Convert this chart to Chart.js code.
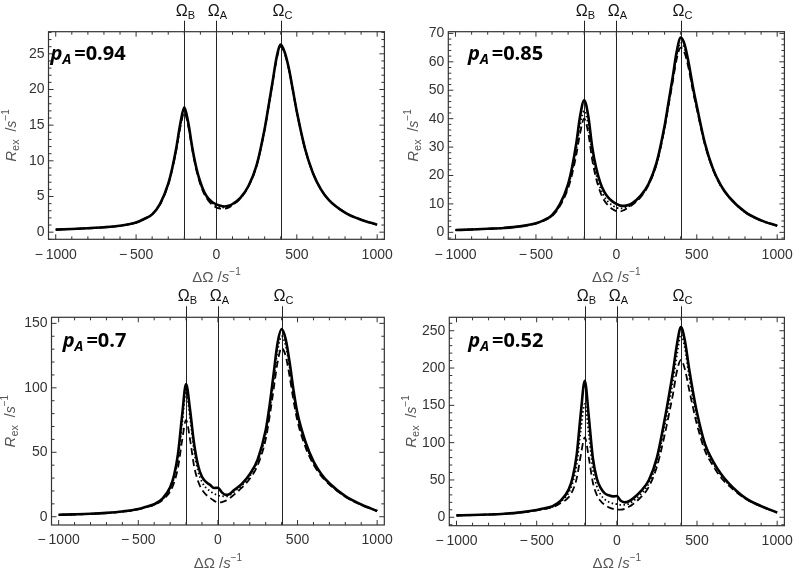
<!DOCTYPE html>
<html>
<head>
<meta charset="utf-8">
<script src="https://cdn.jsdelivr.net/npm/chart.js@4.4.1/dist/chart.umd.min.js"></script>
<style>
  html, body { margin: 0; padding: 0; background: #fff; }
  #wrap { position: relative; width: 800px; height: 571px; overflow: hidden; }
  canvas { position: absolute; }
</style>
</head>
<body>
<div id="wrap">
  <canvas id="c1" width="400" height="285" style="left:0;top:0"></canvas>
  <canvas id="c2" width="400" height="285" style="left:400px;top:0"></canvas>
  <canvas id="c3" width="400" height="286" style="left:0;top:285px"></canvas>
  <canvas id="c4" width="400" height="286" style="left:400px;top:285px"></canvas>
</div>
<script>
// offset values (s^-1) shared by every curve
const xValues = [-1000,-900,-800,-700,-600,-500,-450,-400,-350,-300,-275,-250,-225,-200,-175,-150,-125,-100,-75,-50,-25,0,25,50,75,100,150,200,250,300,325,350,375,400,425,450,475,500,550,600,650,700,800,900,1000];

// pA = 0.94
const solid1  = [0.35,0.45,0.55,0.68,0.9,1.35,1.85,2.5,4.0,6.8,9.0,11.8,15.2,17.5,15.3,11.8,9.0,7.0,5.6,4.7,4.2,3.9,3.7,3.6,3.7,3.95,4.85,6.5,9.4,14.5,17.8,21.2,24.6,26.3,25.2,23.0,20.0,16.9,11.8,8.3,6.0,4.5,2.75,1.75,1.05];
const dotted1 = [0.35,0.45,0.55,0.68,0.9,1.35,1.85,2.5,3.97,6.72,8.9,11.65,14.95,17.15,15.05,11.65,8.85,6.85,5.45,4.55,4.0,3.65,3.5,3.45,3.57,3.87,4.8,6.47,9.37,14.45,17.75,21.1,24.45,26.15,25.1,22.95,19.95,16.87,11.8,8.3,6.0,4.5,2.75,1.75,1.05];
const dashed1 = [0.35,0.45,0.55,0.68,0.9,1.35,1.85,2.5,3.95,6.65,8.8,11.5,14.7,16.8,14.8,11.5,8.7,6.7,5.3,4.4,3.8,3.45,3.3,3.3,3.45,3.8,4.75,6.45,9.35,14.4,17.7,21.0,24.3,26.0,25.0,22.9,19.9,16.85,11.8,8.3,6.0,4.5,2.75,1.75,1.05];

// pA = 0.85
const solid2  = [0.8,1.0,1.25,1.55,2.1,3.2,4.3,6.0,10,17,23,31,41,46.5,41,30,22.5,17.5,14.2,12.2,10.9,10.0,9.4,9.3,9.6,10.3,12.8,17,24.5,37.5,46,54.5,63.5,68.5,66,59.5,51.5,44.5,31.5,22.5,16.5,12.5,7.2,4.2,2.3];
const dotted2 = [0.8,1.0,1.25,1.55,2.08,3.15,4.2,5.85,9.6,16.2,21.7,29,37.8,42.8,37.8,27.5,20.4,15.7,12.6,10.7,9.5,8.7,8.4,8.6,9.1,10.0,12.5,16.8,24.2,37,45.4,53.6,62.2,66.7,64.5,58.5,50.7,44,31.2,22.3,16.4,12.4,7.1,4.15,2.3];
const dashed2 = [0.8,1.0,1.25,1.55,2.05,3.1,4.1,5.7,9.3,15.5,20.5,27,35,40,35,25.5,18.8,14.2,11.2,9.4,8.2,7.5,7.4,7.9,8.7,9.7,12.3,16.6,24,36.6,44.8,52.8,61,65,63,57.5,50,43.5,31,22.2,16.3,12.4,7.1,4.15,2.3];

// pA = 0.7
const solid3  = [1.5,1.85,2.3,3.0,4.1,6.0,7.8,9.7,13.8,22.8,32.3,49.4,78.2,103,83,57,40,31,27,24.8,22.3,22.5,18.9,17,17.8,20.5,25.5,33,44.5,67,86.7,111,135,145.5,138,120,98,80,58,43,33,26,16,9.5,4.5];
const dotted3 = [1.48,1.83,2.28,2.95,4.0,5.85,7.6,9.5,13.4,21.5,30.5,45.5,72,97,77,51.5,35.5,27,22.5,20,18,16.6,16,15.8,16.8,19.2,24.3,31.5,42.5,64,83,106,129,140,133,116,95,77.5,56.5,42,32.5,25.5,15.8,9.4,4.45];
const dashed3 = [1.45,1.8,2.25,2.9,3.9,5.7,7.4,9.3,12.8,19.5,26.5,38.5,59,75,60,39.5,27.7,21,17.2,14.7,12.5,11,11.4,12.5,14.5,17,22.5,29.5,40,60,78,99,120,131,125,109,90,74,54,40.5,31.5,25,15.5,9.2,4.4];

// pA = 0.52
const solid4  = [2.5,3.0,3.7,4.8,6.6,9.8,12,15,22.3,37.4,54,84.4,139,183,135,80,52,39,32,29.5,28,28.5,22,20,21.5,25,35,50,80,133,163,195,232,255,236,200,168,140,98,75,58,45,26,15,6.5];
const dotted4 = [2.45,2.95,3.65,4.7,6.45,9.5,11.6,14.3,20.8,33,46.5,71,117,152,112,65,41.5,30,24,20.5,18.5,17.5,16.5,16.5,18,21.5,31,45.5,74,124,152,182,218,245,226,190,159,133,94,72.5,56,43.5,25.5,14.8,6.4];
const dashed4 = [2.4,2.9,3.6,4.6,6.3,9.2,11.2,13.5,19,27,36,52.5,83,107,80,47,30,21.5,16.5,13.3,11.3,10.2,10.2,11.5,14,17.5,27,41,68,112,138,165,196,211,198,172,147,124,89,69,53,42,25,14.5,6.3];

// tick labels
const xTicks = [-1000, -500, 0, 500, 1000];
const yTicks1 = [0, 5, 10, 15, 20, 25];
const yTicks2 = [0, 10, 20, 30, 40, 50, 60, 70];
const yTicks3 = [0, 50, 100, 150];
const yTicks4 = [0, 50, 100, 150, 200, 250];

// resonance markers and panel labels
const markerX = [-200, 0, 400];
const markerSub = ['B', 'A', 'C'];
const pAValues = ['0.94', '0.85', '0.7', '0.52'];

const FONT = '"Liberation Sans", Arial, sans-serif';
const LABEL_FONT = '"Open Sans", sans-serif';

function richWidth(ctx, parts) {
  let w = 0;
  for (const p of parts) { ctx.font = p.font; w += ctx.measureText(p.t).width + (p.gap || 0); }
  return w;
}
function drawRich(ctx, parts, x, y) {
  for (const p of parts) {
    ctx.font = p.font;
    ctx.fillText(p.t, x, y + (p.dy || 0));
    x += ctx.measureText(p.t).width + (p.gap || 0);
  }
}
function fmt(v) {
  return v < 0 ? '\u2212\u2009' + Math.abs(v) : String(v);
}

const decor = {
  id: 'decor',
  beforeDatasetsDraw(chart, args, o) {
    const { ctx, chartArea: a, scales: { x } } = chart;
    ctx.save();
    ctx.strokeStyle = '#222';
    ctx.fillStyle = '#111';
    ctx.lineWidth = 1;
    ctx.textBaseline = 'alphabetic';
    markerX.forEach((v, i) => {
      const px = Math.round(x.getPixelForValue(v)) + 0.5;
      ctx.beginPath();
      ctx.moveTo(px, a.top - 11);
      ctx.lineTo(px, a.bottom);
      ctx.stroke();
      const parts = [
        { t: '\u03A9', font: '16px ' + FONT },
        { t: markerSub[i], font: '11px ' + FONT, dy: 3 }
      ];
      drawRich(ctx, parts, px - richWidth(ctx, parts) / 2 + 1, a.top - 16);
    });
    ctx.restore();
  },
  afterDatasetsDraw(chart, args, o) {
    const { ctx, chartArea: a, scales: { x, y } } = chart;
    ctx.save();
    // frame
    ctx.strokeStyle = '#333';
    ctx.lineWidth = 1.2;
    ctx.strokeRect(a.left, a.top, a.right - a.left, a.bottom - a.top);
    // inward ticks on all four sides
    ctx.lineWidth = 1;
    for (let v = xTicks[0]; v <= xTicks[xTicks.length - 1]; v += 100) {
      const len = xTicks.includes(v) ? 5 : 3;
      const px = x.getPixelForValue(v);
      ctx.beginPath();
      ctx.moveTo(px, a.bottom); ctx.lineTo(px, a.bottom - len);
      ctx.moveTo(px, a.top); ctx.lineTo(px, a.top + len);
      ctx.stroke();
    }
    for (let v = Math.ceil(y.min / o.yMinor) * o.yMinor; v <= y.max; v += o.yMinor) {
      const len = o.yTicks.includes(Math.round(v * 100) / 100) ? 5 : 3;
      const py = y.getPixelForValue(v);
      ctx.beginPath();
      ctx.moveTo(a.left, py); ctx.lineTo(a.left + len, py);
      ctx.moveTo(a.right, py); ctx.lineTo(a.right - len, py);
      ctx.stroke();
    }
    // axis titles
    ctx.fillStyle = '#555';
    ctx.textBaseline = 'alphabetic';
    const xt = [
      { t: '\u0394\u03A9 /', font: '15px ' + FONT },
      { t: 's', font: 'italic 15px ' + FONT },
      { t: '\u22121', font: '10px ' + FONT, dy: -7 }
    ];
    drawRich(ctx, xt, (a.left + a.right) / 2 - richWidth(ctx, xt) / 2, o.xTitleY);
    const ytp = [
      { t: 'R', font: 'italic 15px ' + FONT },
      { t: 'ex', font: '11px ' + FONT, dy: 3 },
      { t: '  /', font: '14px ' + FONT },
      { t: 's', font: 'italic 14px ' + FONT },
      { t: '\u22121', font: '10px ' + FONT, dy: -7 }
    ];
    ctx.translate(o.yTitleX, (a.top + a.bottom) / 2);
    ctx.rotate(-Math.PI / 2);
    drawRich(ctx, ytp, -richWidth(ctx, ytp) / 2, 0);
    ctx.setTransform(1, 0, 0, 1, 0, 0);
    // pA label
    ctx.fillStyle = '#000';
    const lab = [
      { t: 'p', font: 'italic bold 20px ' + LABEL_FONT },
      { t: 'A', font: 'italic bold 14px ' + LABEL_FONT, dy: 4, gap: 3 },
      { t: '=' + o.pA, font: 'bold 20px ' + LABEL_FONT }
    ];
    drawRich(ctx, lab, o.labelX, o.labelY);
    ctx.restore();
  }
};

const panels = [
  { id: 'c1', w: 400, h: 285, area: [48.5, 31.7, 388.3, 239.3], yMin: -1, yMax: 28.1, yTicks: yTicks1, yMinor: 1,
    series: [solid1, dotted1, dashed1], pA: pAValues[0], labelX: 50.5, labelY: 59.5, yTitleX: 16, xTitleY: 282 },
  { id: 'c2', w: 400, h: 285, area: [48.3, 31.7, 388.3, 239.3], yMin: -2.45, yMax: 70.6, yTicks: yTicks2, yMinor: 2,
    series: [solid2, dotted2, dashed2], pA: pAValues[1], labelX: 68, labelY: 59.5, yTitleX: 18, xTitleY: 282 },
  { id: 'c3', w: 400, h: 286, area: [51.5, 32.3, 387.3, 240], yMin: -6.4, yMax: 154.7, yTicks: yTicks3, yMinor: 10,
    series: [solid3, dotted3, dashed3], pA: pAValues[2], labelX: 62.7, labelY: 61.7, yTitleX: 15, xTitleY: 283 },
  { id: 'c4', w: 400, h: 286, area: [49.3, 32.3, 388.3, 240.7], yMin: -11.3, yMax: 268, yTicks: yTicks4, yMinor: 10,
    series: [solid4, dotted4, dashed4], pA: pAValues[3], labelX: 68.3, labelY: 61.7, yTitleX: 16, xTitleY: 283 }
];

const lineStyles = [
  { borderWidth: 2.6, borderDash: [] },
  { borderWidth: 1.8, borderDash: [1.5, 2.5] },
  { borderWidth: 1.8, borderDash: [7, 4] }
];

panels.forEach(p => {
  const [L, T, R, B] = p.area;
  const tickFont = { family: 'Liberation Sans', size: 14 };
  new Chart(document.getElementById(p.id).getContext('2d'), {
    type: 'line',
    data: {
      datasets: p.series.map((s, k) => ({
        data: xValues.map((xv, i) => ({ x: xv, y: s[i] })),
        borderColor: '#000',
        borderWidth: lineStyles[k].borderWidth,
        borderDash: lineStyles[k].borderDash,
        fill: false
      }))
    },
    options: {
      responsive: false,
      animation: false,
      devicePixelRatio: 1,
      layout: { padding: { left: 0, top: T, right: p.w - R, bottom: 0 } },
      elements: { point: { radius: 0 }, line: { cubicInterpolationMode: 'monotone' } },
      plugins: {
        legend: { display: false },
        tooltip: { enabled: false },
        decor: { yTicks: p.yTicks, yMinor: p.yMinor, pA: p.pA, labelX: p.labelX, labelY: p.labelY,
                 yTitleX: p.yTitleX, xTitleY: p.xTitleY }
      },
      scales: {
        x: {
          type: 'linear', min: -1045, max: 1045,
          grid: { display: false, drawTicks: false }, border: { display: false },
          afterBuildTicks: s => { s.ticks = xTicks.map(v => ({ value: v })); },
          ticks: { padding: 7, font: tickFont, color: '#333', maxRotation: 0, autoSkip: false, callback: v => fmt(v) },
          afterFit: s => { s.height = p.h - B; }
        },
        y: {
          type: 'linear', min: p.yMin, max: p.yMax,
          grid: { display: false, drawTicks: false }, border: { display: false },
          afterBuildTicks: s => { s.ticks = p.yTicks.map(v => ({ value: v })); },
          ticks: { padding: 4, font: tickFont, color: '#333', autoSkip: false, callback: v => fmt(v) },
          afterFit: s => { s.width = L; }
        }
      }
    },
    plugins: [decor]
  });
});
</script>
</body>
</html>
